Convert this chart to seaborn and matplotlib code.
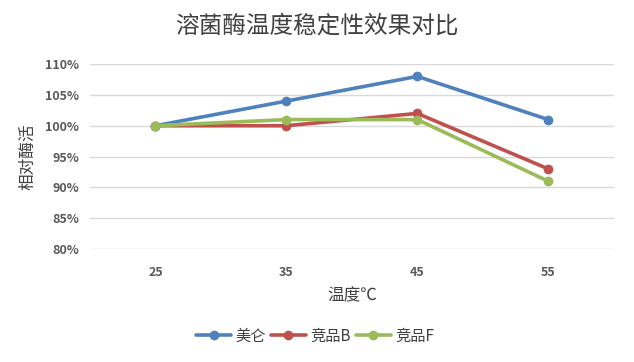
import matplotlib
matplotlib.use("Agg")
import matplotlib.pyplot as plt
import seaborn as sns
import pandas as pd
from matplotlib.ticker import PercentFormatter

temps = ["25", "35", "45", "55"]
meilun = [100, 104, 108, 101]
jingpin_b = [100, 100, 102, 93]
jingpin_f = [100, 101, 101, 91]
series_names = ["美仑", "竞品B", "竞品F"]
colors = ["#4F81BD", "#C0504D", "#9BBB59"]

rows = []
for name, vals in zip(series_names, [meilun, jingpin_b, jingpin_f]):
    for t, v in zip(temps, vals):
        rows.append({"温度": t, "相对酶活": v, "系列": name})
df = pd.DataFrame(rows)

sns.set_style("white")
plt.rcParams['font.family'] = ['Noto Sans CJK SC', 'DejaVu Sans']

fig = plt.figure(figsize=(6.34, 3.62), dpi=100)
ax = fig.add_axes([0.142, 0.312, 0.826, 0.511])

sns.lineplot(data=df, x="温度", y="相对酶活", hue="系列", hue_order=series_names,
             palette=colors, marker="o", markersize=7, markeredgewidth=0,
             linewidth=2.6, sort=False, ax=ax)

ax.set_ylim(80, 110)
ax.set_yticks(range(80, 111, 5))
ax.yaxis.set_major_formatter(PercentFormatter(decimals=0))
ax.set_xlim(-0.5, 3.5)
ax.grid(axis="y", color="#D9D9D9", linewidth=1)
ax.set_axisbelow(True)
for s in ax.spines.values():
    s.set_visible(False)
ax.tick_params(axis="both", length=0, labelsize=9, colors="#595959")
ax.tick_params(axis="y", pad=8)
ax.tick_params(axis="x", pad=12)
for lab in ax.get_yticklabels() + ax.get_xticklabels():
    lab.set_fontweight("bold")

ax.set_xlabel("温度℃", fontsize=12, color="#404040", labelpad=6)
ax.set_ylabel("相对酶活", fontsize=12, color="#404040", labelpad=6)
fig.suptitle("溶菌酶温度稳定性效果对比", fontsize=17, color="#404040", y=0.96)

handles, labels = ax.get_legend_handles_labels()
ax.legend(handles, labels, loc="center", bbox_to_anchor=(0.43, -0.47), ncol=3,
          frameon=False, fontsize=11, handlelength=2.3, columnspacing=0.3,
          handletextpad=0.3, labelcolor="#404040")

fig.savefig("out.png", dpi=100)
